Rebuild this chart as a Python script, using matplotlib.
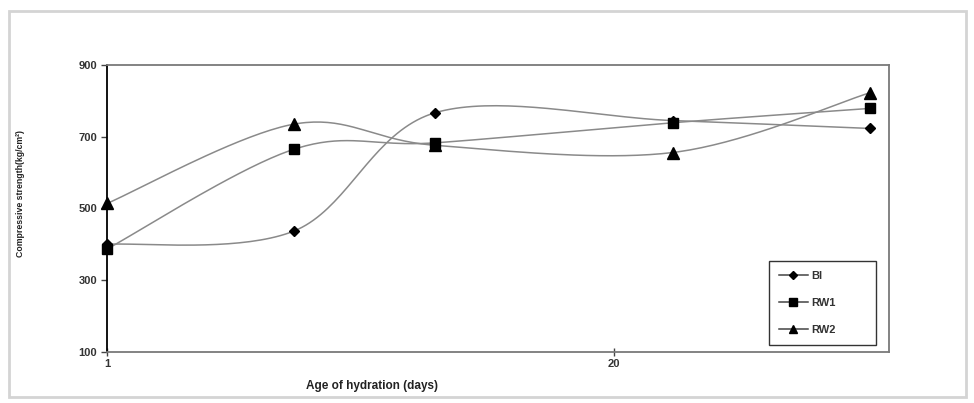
import numpy as np
import matplotlib
matplotlib.use("Agg")
import matplotlib.pyplot as plt
from matplotlib.lines import Line2D
from matplotlib.patches import Rectangle

# data
age_days = [1, 8, 13.3, 22.2, 29.6]
bi = [400, 437, 767, 745, 723]
rw1 = [387, 665, 683, 739, 779]
rw2 = [514, 735, 676, 656, 823]
series_names = ["BI", "RW1", "RW2"]


def smooth(xs, ys, n=40):
    # Excel-style smoothed line (Catmull-Rom as cubic Bezier)
    p = np.column_stack([xs, ys]).astype(float)
    p = np.vstack([p[0], p, p[-1]])
    out = []
    t = np.linspace(0, 1, n)[:, None]
    for i in range(1, len(p) - 2):
        p0, p3 = p[i], p[i + 1]
        b1 = p0 + (p[i + 1] - p[i - 1]) / 6
        b2 = p3 - (p[i + 2] - p[i]) / 6
        seg = ((1 - t) ** 3) * p0 + 3 * ((1 - t) ** 2) * t * b1 + 3 * (1 - t) * t ** 2 * b2 + t ** 3 * p3
        out.append(seg)
    c = np.vstack(out)
    return c[:, 0], c[:, 1]


plt.rcParams['font.family'] = ['Liberation Sans', 'DejaVu Sans']

fig = plt.figure(figsize=(9.74, 4.03), dpi=100)
fig.patches.append(Rectangle((0.009, 0.015), 0.983, 0.958, transform=fig.transFigure,
                             fill=False, edgecolor='#d4d4d4', linewidth=2))
ax = fig.add_axes([0.1099, 0.1266, 0.8029, 0.7122])

line_col = '#8a8a8a'
styles = [('D', 5.5), ('s', 7.5), ('^', 8)]
handles = []
for ys, name, (mk, ms) in zip([bi, rw1, rw2], series_names, styles):
    sx, sy = smooth(age_days, ys)
    ax.plot(sx, sy, color=line_col, lw=1.1, zorder=2)
    ax.plot(age_days, ys, linestyle='none', marker=mk, markersize=ms,
            color='black', zorder=3, clip_on=False)
    handles.append(Line2D([], [], color='#444444', lw=1.1, marker=mk,
                          markersize=ms * 0.8, markerfacecolor='black',
                          markeredgecolor='black', label=name))

ax.set_xlim(1, 30.3)
ax.set_ylim(100, 900)
ax.set_xticks([1, 20])
ax.set_yticks([100, 300, 500, 700, 900])
ax.tick_params(axis='y', direction='out', length=4, width=1, colors='#444444',
               labelsize=8, pad=3)
ax.tick_params(axis='x', direction='inout', length=6, width=1, colors='#444444',
               labelsize=8, pad=2)
for lab in ax.get_xticklabels() + ax.get_yticklabels():
    lab.set_color('#333333')
    lab.set_fontweight('bold')

ax.spines['left'].set_color('black')
ax.spines['left'].set_linewidth(1.3)
for s in ['top', 'bottom', 'right']:
    ax.spines[s].set_color('#7a7a7a')
    ax.spines[s].set_linewidth(1.3)

leg = ax.legend(handles=handles, loc='lower left',
                bbox_to_anchor=(0.8465, 0.0244, 0.1365, 0.303), mode='expand',
                fontsize=8, frameon=True, fancybox=False, handlelength=2.6,
                labelspacing=1.55, borderpad=0.9, handletextpad=0.3,
                borderaxespad=0)
leg.get_frame().set_edgecolor('black')
leg.get_frame().set_linewidth(1.0)
for t in leg.get_texts():
    t.set_fontweight('bold')
    t.set_color('#333333')

fig.text(0.382, 0.042, 'Age of hydration (days)', ha='center', va='center',
         fontsize=8.5, fontweight='bold', color='#222222')
fig.text(0.021, 0.52, 'Compressive strength(kg/cm²)', rotation=90, ha='center',
         va='center', fontsize=6.3, fontweight='bold', color='#222222')

fig.savefig('out.png', dpi=100)
